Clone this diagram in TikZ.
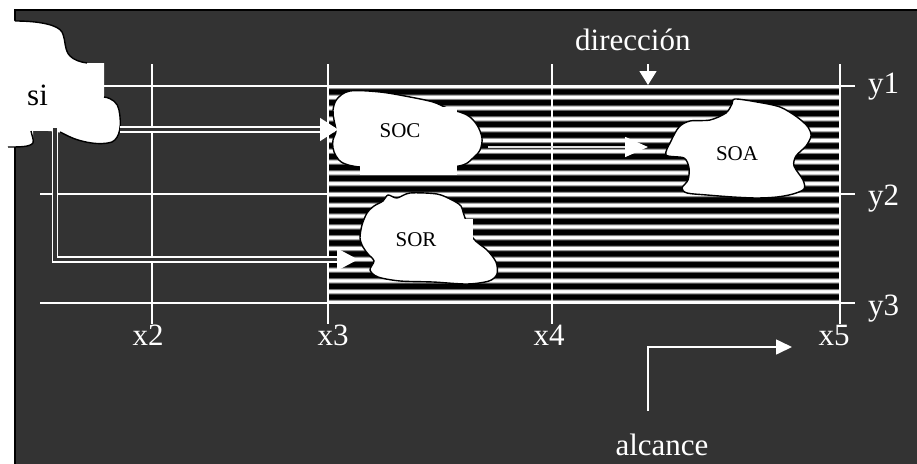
\documentclass[tikz,border=0pt]{standalone}
\usepackage{fontspec}
\setmainfont{Liberation Serif}
\usetikzlibrary{arrows.meta}
\definecolor{panel}{HTML}{333333}
\pgfdeclareverticalshading{stripe}{100bp}{color(0bp)=(white); color(25bp)=(white); color(30bp)=(white); color(40bp)=(black); color(60bp)=(black); color(70bp)=(white); color(75bp)=(white); color(100bp)=(white)}
\tikzset{
  grid/.style={draw=white, line width=1.5pt},
  blob/.style={fill=white, draw=black, line width=1.4pt},
  bigtext/.style={text=white, font=\fontsize{31}{31}\selectfont, inner sep=0pt},
  blobtext/.style={text=black, font=\fontsize{21}{21}\selectfont, inner sep=0pt},
  dblarrow/.style={draw=white, line width=1.5pt, double=panel, double distance=3.5pt},
  sglarrow/.style={draw=white, line width=1.6pt},
}
\begin{document}
\begin{tikzpicture}[x=1pt,y=-1pt]
\useasboundingbox (0,0) rectangle (917,463);
% panel
\fill[white] (0,0) rectangle (917,463);
\draw[fill=panel, draw=black, line width=1.2pt] (15,10) rectangle (925,470);
% stripes
\foreach \k in {0,...,19}
  \shade[shading=stripe] (328,{86+10.8*\k}) rectangle (840,{86+10.8*(\k+1)});
% grid
\foreach \yy in {86,194,303} \draw[grid] (40,\yy) -- (855,\yy);
\foreach \xx in {152,328,552,840} \draw[grid] (\xx,64) -- (\xx,324);
% si blob
\fill[white] (0,20) -- (15,21) .. controls (40,21) and (58,25) .. (62,32)
  .. controls (66,40) and (64,50) .. (70,56) .. controls (74,60) and (80,62) .. (87,63)
  -- (104,63) -- (104,97) .. controls (112,98) and (118,103) .. (119,110)
  .. controls (122,125) and (120,138) .. (112,142) .. controls (100,146) and (80,142) .. (68,136)
  .. controls (62,132) and (50,130) .. (33,131) -- (33,143) .. controls (30,147) and (20,147) .. (8,147)
  -- (0,147) -- cycle;
\draw[black, line width=1.4pt] (15,21) .. controls (40,21) and (58,25) .. (62,32)
  .. controls (66,40) and (64,50) .. (70,56) .. controls (74,60) and (80,62) .. (87,63);
\draw[black, line width=1.4pt] (104,97) .. controls (112,98) and (118,103) .. (119,110)
  .. controls (122,125) and (120,138) .. (112,142) .. controls (100,146) and (80,142) .. (68,136)
  .. controls (64,134) and (62,133) .. (60,132);
\draw[black, line width=1.4pt] (31,131) .. controls (32,136) and (34,140) .. (33,143)
  .. controls (30,147) and (20,147) .. (8,147);
\node[bigtext, text=black, anchor=base west] (si) at (27,105) {si};
% SOC blob
\path[blob] plot[smooth cycle, tension=0.55] coordinates {(337,99) (350,91) (380,92) (410,97) (433,102) (447,108) (467,115) (477,125) (482,138) (480,150) (473,158) (463,165) (440,168) (400,168) (360,167) (343,163) (336,156) (333,148) (333,140) (336,131) (334,120) (333,110)};
\fill[white] (360,107) rectangle (457,175);
\node[blobtext, anchor=base] (soc) at (400,137) {SOC};
% SOA blob
\path[blob] plot[smooth cycle, tension=0.5] coordinates {(735,99) (757,102) (780,107) (797,117) (808,127) (811,136) (806,146) (796,156) (794,166) (803,180) (804,189) (793,194) (777,197) (757,198) (733,197) (707,195) (687,193) (682,188) (688,180) (689,168) (684,158) (666,155) (671,141) (679,127) (690,121) (710,120) (726,113) (732,104)};
\node[blobtext, anchor=base] (soa) at (737,160) {SOA};
% SOR blob
\path[blob] plot[smooth cycle, tension=0.5] coordinates {(388,195) (397,198) (410,193) (437,194) (452,200) (461,206) (464,215) (473,238) (487,250) (496,262) (497,274) (489,281) (467,284) (433,282) (400,281) (378,277) (370,270) (374,261) (368,254) (363,247) (360,238) (362,225) (367,213) (374,206) (383,201)};
\fill[white] (440,219) rectangle (473,240);
\node[blobtext, anchor=base] (sor) at (416,246) {SOR};
% arrows
\coordinate (a1s) at (120,129.5);
\coordinate (a1e) at (338,129.5);
\draw[dblarrow, -{Triangle[length=18pt,width=23pt]}] (a1s) -- (a1e);
\coordinate (a2s) at (55,128);
\coordinate (a2e) at (358,259.5);
\draw[dblarrow, -{Triangle[length=21pt,width=22pt]}] (a2s) |- (a2e);
\coordinate (a3s) at (488,147);
\coordinate (a3e) at (648,147);
\draw[sglarrow, draw=white!88!black, -{Triangle[length=23pt,width=20pt,color=white]}] (a3s) -- (a3e);
% direccion
\node[bigtext, anchor=base west] (dir) at (575,50) {dirección};
\coordinate (d1) at (648,64);
\coordinate (d2) at (648,85);
\draw[sglarrow, -{Triangle[length=14pt,width=17pt]}] (d1) -- (d2);
% alcance
\node[bigtext, anchor=base] (alc) at (662,455) {alcance};
\coordinate (al1) at (648,411);
\coordinate (al2) at (792,347);
\draw[sglarrow, -{Triangle[length=16pt,width=15pt]}] (al1) |- (al2);
% labels
\node[bigtext, anchor=base] (x2) at (148,345) {x2};
\node[bigtext, anchor=base] (x3) at (333,345) {x3};
\node[bigtext, anchor=base] (x4) at (549,345) {x4};
\node[bigtext, anchor=base] (x5) at (834,345) {x5};
\node[bigtext, anchor=base west] (y1) at (868,93) {y1};
\node[bigtext, anchor=base west] (y2) at (868,205) {y2};
\node[bigtext, anchor=base west] (y3) at (868,315) {y3};
\end{tikzpicture}
\end{document}
